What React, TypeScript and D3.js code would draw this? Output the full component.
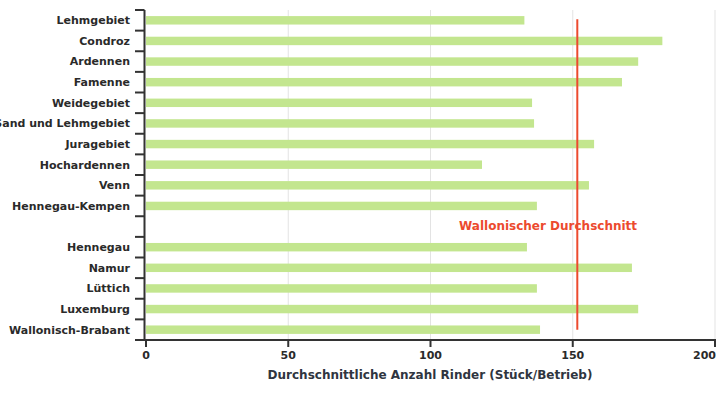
import React from "react";
import * as d3 from "d3";

const categories = [
  "Lehmgebiet",
  "Condroz",
  "Ardennen",
  "Famenne",
  "Weidegebiet",
  "Sand und Lehmgebiet",
  "Juragebiet",
  "Hochardennen",
  "Venn",
  "Hennegau-Kempen",
  "",
  "Hennegau",
  "Namur",
  "Lüttich",
  "Luxemburg",
  "Wallonisch-Brabant",
];
const values: (number | null)[] = [
  133, 181.5, 173, 167.3, 135.7, 136.4, 157.5, 118.1, 155.7, 137.4, null, 133.9, 170.8, 137.4, 173, 138.5,
];
const average = 151.6;
const averageLabel = "Wallonischer Durchschnitt";
const xTicks = [0, 50, 100, 150, 200];
const xTitle = "Durchschnittliche Anzahl Rinder (Stück/Betrieb)";

const W = 725;
const H = 400;
const FONT = "'DejaVu Sans', sans-serif";

export default function App() {
  const x = d3.scaleLinear().domain([0, 200]).range([146, 715]);
  const ids = categories.map((_, i) => String(i));
  const y = d3.scaleBand().domain(ids).range([10, 340]).padding(0);
  const step = y.step();
  const barH = step * 0.41;
  const axisX = 144.5;
  const avgX = x(average);
  const firstC = (y(ids[0]) as number) + step / 2;
  const lastC = (y(ids[ids.length - 1]) as number) + step / 2;
  const gapIdx = categories.indexOf("");
  const gapC = (y(ids[gapIdx]) as number) + step / 2;

  return (
    <svg
      width={W}
      height={H}
      style={{ position: "absolute", left: 0, top: 0, overflow: "visible", background: "#fff" }}
    >
      {/* gridlines */}
      {xTicks.filter((t) => t > 0).map((t) => (
        <line key={"g" + t} x1={x(t)} x2={x(t)} y1={10} y2={340} stroke="#e3e3e3" strokeWidth={1} />
      ))}
      {/* bars */}
      {values.map((v, i) =>
        v == null ? null : (
          <rect
            key={"b" + i}
            x={x(0)}
            width={x(v) - x(0)}
            y={(y(ids[i]) as number) + step / 2 - barH / 2}
            height={barH}
            fill="#c3e68f"
          />
        )
      )}
      {/* average line */}
      <line x1={avgX} x2={avgX} y1={firstC - 1} y2={lastC} stroke="#ec4a2e" strokeWidth={2} />
      <text
        x={459}
        y={gapC - 1}
        dy="0.35em"
        textAnchor="start"
        fontFamily={FONT}
        fontWeight="bold"
        fontSize={12}
        fill="#ec4a2e"
      >
        {averageLabel}
      </text>
      {/* y axis */}
      <line x1={axisX} x2={axisX} y1={10} y2={340} stroke="#333" strokeWidth={2} />
      {ids.map((id, i) => (
        <line
          key={"yt" + i}
          x1={135}
          x2={axisX}
          y1={y(id) as number}
          y2={y(id) as number}
          stroke="#333"
          strokeWidth={2}
        />
      ))}
      <line x1={135} x2={axisX} y1={340} y2={340} stroke="#333" strokeWidth={2} />
      {categories.map((c, i) => (
        <text
          key={"yl" + i}
          x={130}
          y={(y(ids[i]) as number) + step / 2}
          dy="0.35em"
          textAnchor="end"
          fontFamily={FONT}
          fontWeight="bold"
          fontSize={11}
          fill="#2a2a2a"
        >
          {c}
        </text>
      ))}
      {/* x axis */}
      <line x1={135} x2={716} y1={340} y2={340} stroke="#333" strokeWidth={2} />
      {xTicks.map((t, i) => (
        <g key={"xt" + t}>
          <line x1={x(t)} x2={x(t)} y1={340} y2={347} stroke="#333" strokeWidth={2} />
          <text
            x={i === xTicks.length - 1 ? x(t) + 1 : x(t)}
            y={355}
            dy="0.35em"
            textAnchor={i === xTicks.length - 1 ? "end" : "middle"}
            fontFamily={FONT}
            fontWeight="bold"
            fontSize={11}
            fill="#2a2a2a"
          >
            {t}
          </text>
        </g>
      ))}
      <text
        x={430}
        y={375}
        dy="0.35em"
        textAnchor="middle"
        fontFamily={FONT}
        fontWeight="bold"
        fontSize={12}
        fill="#2f3540"
      >
        {xTitle}
      </text>
    </svg>
  );
}
